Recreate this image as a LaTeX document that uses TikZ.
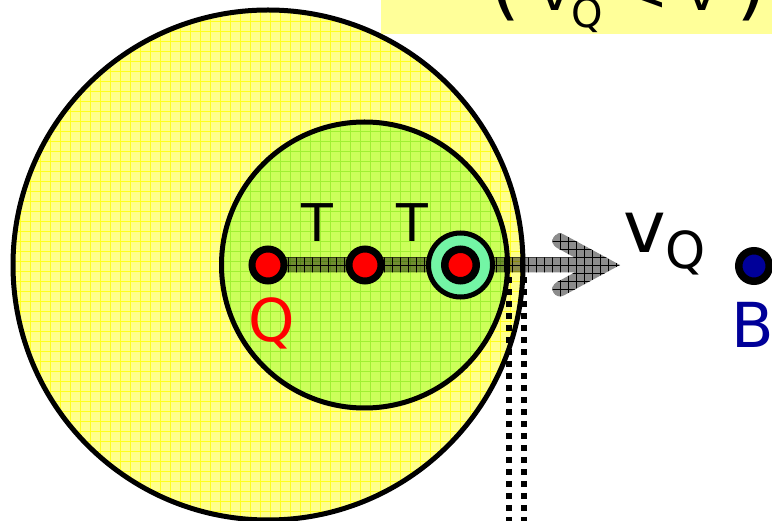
\documentclass[tikz,border=0pt]{standalone}
\usepackage{fontspec}
\setmainfont{DejaVu Sans}
\usetikzlibrary{patterns.meta}

\definecolor{paleyellow}{RGB}{255,255,140}
\definecolor{gridyellow}{RGB}{255,255,30}
\definecolor{limegreen}{RGB}{204,255,90}
\definecolor{gridgreen}{RGB}{160,240,50}
\definecolor{mint}{RGB}{115,245,165}
\definecolor{darkblue}{RGB}{0,0,153}
\definecolor{titleyellow}{RGB}{255,255,153}

\begin{document}
\begin{tikzpicture}[x=1pt,y=-1pt,
  gridfill/.style 2 args={preaction={fill=#1},
    preaction={pattern={Lines[angle=0,distance=10pt,line width=.8pt]},pattern color=#2},
    preaction={pattern={Lines[angle=90,distance=10pt,line width=.8pt]},pattern color=#2}},
  dot/.style={circle,draw=black,line width=7pt,minimum size=32pt,inner sep=0pt},
  dotline/.style={line width=6pt,dash pattern=on 6pt off 6pt},
  label/.style={anchor=base,inner sep=0pt,font=\fontsize{52}{60}\selectfont}]
  \useasboundingbox (0,0) rectangle (772,521);

  % title strip, cut at the top
  \fill[titleyellow] (381,0) rectangle (772,34);
  \node[anchor=base west,inner sep=0pt,font=\fontsize{56}{64}\selectfont] (title) at (489.4,11)
    {{\fontsize{80}{90}\selectfont(} v\raisebox{-17pt}{\fontsize{40}{48}\selectfont Q} < v {\fontsize{80}{90}\selectfont)}};

  % regions
  \draw[line width=5pt,gridfill={paleyellow}{gridyellow}] (268,265) circle[radius=255];
  \draw[line width=5pt,gridfill={limegreen}{gridgreen}] (364.5,265) circle[radius=143];

  \draw[dotline] (509,277) -- (509,521);
  \draw[dotline] (524,277) -- (524,521);

  % velocity arrow
  \fill[fill=black,fill opacity=.45,
    postaction={pattern={Lines[angle=0,distance=8pt,line width=.7pt]},pattern color=black},
    postaction={pattern={Lines[angle=90,distance=8pt,line width=.7pt]},pattern color=black}]
    (620,265) -- (563.6,234.4)
    arc[start angle=298.6,end angle=118.6,radius=7.5] -- (574.6,257.5) -- (268,257.5)
    -- (268,272.5) -- (574.6,272.5) -- (556.4,282.4)
    arc[start angle=241.4,end angle=61.4,radius=7.5] -- cycle;

  % positions of Q
  \node[dot,fill=red] (q0) at (268,265) {};
  \node[dot,fill=red] (q1) at (365,265) {};
  \node[circle,draw=black,line width=5pt,fill=mint,minimum size=64pt,inner sep=0pt] (ring) at (460.5,265) {};
  \node[dot,fill=red,line width=7.5pt,minimum size=31.5pt] (q2) at (460.5,265) {};
  \node[dot,fill=darkblue,line width=7.5pt,minimum size=30.5pt] (b) at (754,266) {};

  % labels
  \node[label] (t1) at (317.5,242) {T};
  \node[label] (t2) at (412.5,242) {T};
  \node[label,red,font=\fontsize{59}{66}\selectfont] (lq) at (271.5,342) {Q};
  \node[label,darkblue,font=\fontsize{62}{70}\selectfont] (lb) at (753,348) {B};
  \node[anchor=base west,inner sep=0pt,font=\fontsize{72}{80}\selectfont] (vq) at (623,253)
    {v\raisebox{-16pt}{\fontsize{51}{60}\selectfont Q}};
\end{tikzpicture}
\end{document}
